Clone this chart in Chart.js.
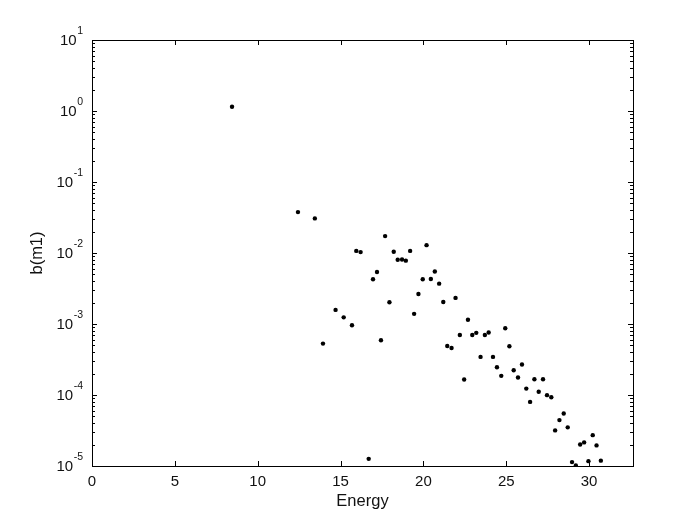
<!DOCTYPE html>
<html>
<head>
<meta charset="utf-8">
<script src="https://cdn.jsdelivr.net/npm/chart.js@4"></script>
<style>
  html, body { margin: 0; padding: 0; background: #fff; }
  canvas { display: block; }
</style>
</head>
<body>
<canvas id="chart" width="700" height="525"></canvas>
<script>
// ---------------- data ----------------
const energy = [8.45, 12.43, 13.45, 13.94, 14.70, 15.19, 15.69, 15.95, 16.21, 16.70,
  16.96, 17.20, 17.44, 17.69, 17.95, 18.21, 18.45, 18.71, 18.94, 19.20,
  19.44, 19.70, 19.96, 20.19, 20.45, 20.69, 20.95, 21.20, 21.44, 21.70,
  21.94, 22.20, 22.46, 22.69, 22.95, 23.19, 23.45, 23.71, 23.94, 24.20,
  24.44, 24.70, 24.94, 25.19, 25.45, 25.71, 25.95, 26.21, 26.44, 26.70,
  26.96, 27.22, 27.46, 27.72, 27.95, 28.21, 28.47, 28.71, 28.97, 29.20,
  29.46, 29.70, 29.96, 30.22, 30.45, 30.71];

const bm1 = [1.15, 0.0377, 0.0307, 5.3e-4, 1.58e-3, 1.24e-3, 9.6e-4, 0.0107, 0.0103, 1.26e-5,
  4.26e-3, 5.4e-3, 5.9e-4, 0.0173, 2.02e-3, 0.0104, 8.05e-3, 8.1e-3, 7.8e-3, 0.0107,
  1.39e-3, 2.65e-3, 4.26e-3, 0.0129, 4.3e-3, 5.5e-3, 3.7e-3, 2.04e-3, 4.9e-4, 4.6e-4,
  2.33e-3, 7.0e-4, 1.65e-4, 1.15e-3, 7.0e-4, 7.5e-4, 3.44e-4, 7.0e-4, 7.6e-4, 3.44e-4,
  2.46e-4, 1.86e-4, 8.7e-4, 4.86e-4, 2.23e-4, 1.76e-4, 2.69e-4, 1.23e-4, 8.0e-5, 1.67e-4,
  1.11e-4, 1.67e-4, 9.95e-5, 9.3e-5, 3.17e-5, 4.43e-5, 5.5e-5, 3.5e-5, 1.135e-5, 1.02e-5,
  2.01e-5, 2.15e-5, 1.17e-5, 2.72e-5, 1.95e-5, 1.19e-5];

const xTicks = [0, 5, 10, 15, 20, 25, 30];
const yExponents = [-5, -4, -3, -2, -1, 0, 1];

const xMin = 0, xMax = 32.65;
const yMin = 1e-5, yMax = 10;

const FONT = '"Liberation Sans", Arial, Helvetica, sans-serif';

// 점 데이터
let points = [];
for (let i = 0; i < energy.length; i++) {
    points.push({ x: energy[i], y: bm1[i] });
}

// ---------------- 박스, 안쪽 눈금, y축 라벨 ----------------
const matlabAxes = {
    id: 'matlabAxes',
    afterDraw(chart) {
        const ctx = chart.ctx;
        const a = chart.chartArea;
        const xs = chart.scales.x;
        const ys = chart.scales.y;

        ctx.save();
        ctx.strokeStyle = '#000';
        ctx.lineWidth = 1;

        // box
        ctx.strokeRect(Math.round(a.left) + 0.5, Math.round(a.top) + 0.5,
            Math.round(a.right - a.left), Math.round(a.bottom - a.top));

        ctx.beginPath();
        // x ticks (bottom + top)
        xTicks.forEach(v => {
            const px = Math.round(xs.getPixelForValue(v)) + 0.5;
            ctx.moveTo(px, a.bottom); ctx.lineTo(px, a.bottom - 5);
            ctx.moveTo(px, a.top); ctx.lineTo(px, a.top + 5);
        });
        // y ticks, major + minor (left + right)
        yExponents.forEach(e => {
            for (let m = 1; m <= 9; m++) {
                const v = m * Math.pow(10, e);
                if (v > yMax * 1.0001) break;
                const py = Math.round(ys.getPixelForValue(v)) + 0.5;
                const len = (m === 1) ? 5 : 3;
                ctx.moveTo(a.left, py); ctx.lineTo(a.left + len, py);
                ctx.moveTo(a.right, py); ctx.lineTo(a.right - len, py);
            }
        });
        ctx.stroke();

        // y tick labels: 10^e
        ctx.fillStyle = '#111';
        ctx.textBaseline = 'middle';
        yExponents.forEach(e => {
            const py = ys.getPixelForValue(Math.pow(10, e));
            const expText = String(e).replace('-', '-');
            ctx.font = '10.5px ' + FONT;
            ctx.textAlign = 'right';
            const expW = ctx.measureText(expText).width;
            const right = a.left - 9;
            ctx.fillText(expText, right, py - 9);
            ctx.font = '15px ' + FONT;
            ctx.fillText('10', right - expW - 0.5, py + 1);
        });

        // y title
        ctx.save();
        ctx.translate(37, (a.top + a.bottom) / 2);
        ctx.rotate(-Math.PI / 2);
        ctx.textAlign = 'center';
        ctx.textBaseline = 'middle';
        ctx.font = '16.5px ' + FONT;
        ctx.fillText('b(m1)', 0, 0);
        ctx.restore();

        ctx.restore();
    }
};

const ct = document.getElementById('chart');

const scatterChart = new Chart(ct, {
    type: 'scatter',
    data: {
        datasets: [{
            data: points,
            backgroundColor: '#000',
            borderWidth: 0,
            pointRadius: 2.2,
            pointHoverRadius: 2.2
        }]
    },
    options: {
        responsive: false,
        animation: false,
        devicePixelRatio: 1,
        layout: { padding: { left: 0, right: 67, top: 40, bottom: 0 } },
        plugins: {
            legend: { display: false },
            tooltip: { enabled: false }
        },
        scales: {
            x: {
                type: 'linear',
                min: xMin,
                max: xMax,
                grid: { display: false, drawTicks: false },
                border: { display: false },
                afterBuildTicks: s => { s.ticks = xTicks.map(v => ({ value: v })); },
                afterFit: s => { s.height = 59; },
                ticks: {
                    color: '#111',
                    padding: 7,
                    maxRotation: 0,
                    autoSkip: false,
                    font: { family: FONT, size: 15 }
                },
                title: {
                    display: true,
                    text: 'Energy',
                    color: '#111',
                    font: { family: FONT, size: 16.5 },
                    padding: { top: 0, bottom: 14 }
                }
            },
            y: {
                type: 'logarithmic',
                min: yMin,
                max: yMax,
                grid: { display: false, drawTicks: false },
                border: { display: false },
                ticks: { display: false },
                afterFit: s => { s.width = 92; }
            }
        }
    },
    plugins: [matlabAxes]
});
</script>
</body>
</html>
